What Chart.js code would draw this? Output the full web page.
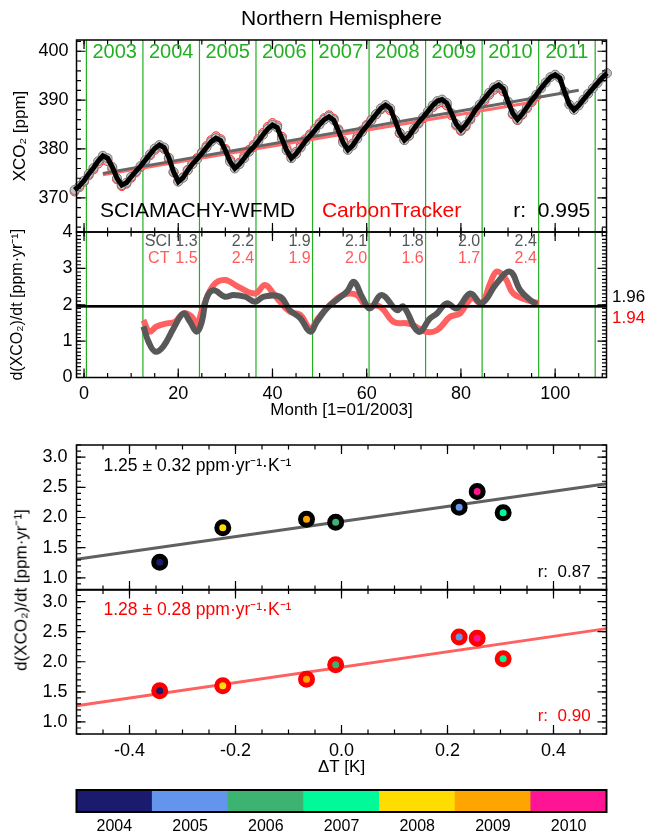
<!DOCTYPE html>
<html lang="en">
<head>
<meta charset="UTF-8"/>
<title>Northern Hemisphere XCO2</title>
<script src="https://cdn.jsdelivr.net/npm/chart.js"></script>
<style>
  body { margin: 0; background: white; font-family: "Liberation Sans", Arial, sans-serif; }
  .wrap { position: relative; width: 648px; height: 835px; overflow: hidden; background: white; }
  canvas { position: absolute; left: 0; }
  .ylab { position: absolute; left: 20px; top: 590px; white-space: nowrap; font-size: 17px;
    transform: translate(-50%, -50%) rotate(-90deg); }
</style>
</head>
<body>
<div class="wrap">
  <canvas id="cTop" width="648" height="246" style="top:0"></canvas>
  <canvas id="cRate" width="648" height="230" style="top:200px"></canvas>
  <canvas id="cSci" width="648" height="184" style="top:420px"></canvas>
  <canvas id="cCt" width="648" height="210" style="top:570px"></canvas>
  <canvas id="cBar" width="648" height="55" style="top:780px"></canvas>
  <div class="ylab">d(XCO₂)/dt [ppm·yr⁻¹]</div>
</div>

<script>
// ---------- top panel: monthly XCO2 [ppm] ----------
const sciMonths = [-2,-1,0,1,2,3,4,5,6,7,8,9,10,11,12,13,14,15,16,17,18,19,20,21,22,23,24,25,26,27,28,29,30,31,32,33,34,35,36,37,38,39,40,41,42,43,44,45,46,47,48,49,50,51,52,53,54,55,56,57,58,59,60,61,62,63,64,65,66,67,68,69,70,71,72,73,74,75,76,77,78,79,80,81,82,83,84,85,86,87,88,89,90,91,92,93,94,95,96,97,98,99,100,101,102,103,104,105,106,107,108,109,110,111];
const sciXco2 = [371.6,372.4,373.5,374.9,376.1,377.5,378.6,378.1,376.3,374.0,372.6,373.1,374.3,375.4,
  376.5,377.7,378.9,380.1,380.8,380.3,378.2,375.3,373.3,374.1,375.6,376.9,
  377.9,379.1,380.3,381.5,382.2,381.7,379.7,377.4,376.0,376.9,378.1,379.4,
  380.4,381.6,382.9,384.1,384.9,384.4,382.1,379.7,378.1,379.0,380.3,381.6,
  382.7,383.8,385.0,386.0,386.6,385.9,383.7,381.3,379.8,380.7,382.1,383.5,
  384.7,385.9,387.1,388.3,389.0,388.3,385.9,383.3,381.8,382.7,384.1,385.4,
  386.5,387.7,388.9,389.8,390.1,389.4,387.3,385.1,383.9,384.9,386.3,387.9,
  389.1,390.3,391.5,392.6,393.1,392.3,389.7,387.3,386.0,387.1,388.5,389.9,
  391.1,392.4,393.6,394.7,395.2,394.5,391.7,389.1,388.0,388.9,390.1,391.3,
  392.4,393.5,394.6,395.5];
const ctMonths = [-2,-1,0,1,2,3,4,5,6,7,8,9,10,11,12,13,14,15,16,17,18,19,20,21,22,23,24,25,26,27,28,29,30,31,32,33,34,35,36,37,38,39,40,41,42,43,44,45,46,47,48,49,50,51,52,53,54,55,56,57,58,59,60,61,62,63,64,65,66,67,68,69,70,71,72,73,74,75,76,77,78,79,80,81,82,83,84,85,86,87,88,89,90,91,92,93,94,95,96];
const ctXco2 = [371.3,372.2,373.3,374.6,375.8,377.0,377.8,377.5,375.9,373.8,372.4,372.9,374.1,375.2,
  376.3,377.5,378.7,379.8,380.5,380.0,378.0,375.2,373.4,374.2,375.7,377.0,
  378.1,379.3,380.6,381.8,382.6,382.0,380.0,377.8,376.4,377.2,378.5,379.8,
  380.8,382.0,383.3,384.5,385.3,384.8,382.5,380.1,378.6,379.4,380.7,382.0,
  383.0,384.1,385.3,386.3,386.9,386.2,384.0,381.7,380.3,381.1,382.5,383.8,
  384.9,386.0,387.1,388.1,388.6,387.9,385.6,383.2,381.9,382.7,384.0,385.2,
  386.3,387.4,388.5,389.3,389.6,388.9,386.9,384.8,383.7,384.6,386.0,387.5,
  388.7,389.9,391.1,392.1,392.6,391.8,389.4,387.1,385.9,387.0,388.3,389.6,
  390.7];
const sciTrendMonths = [4, 105];
const sciTrendXco2 = [375.0, 392.0];
const ctTrendMonths = [4, 96];
const ctTrendXco2 = [374.7, 389.7];
const yearLines = [0.5, 12.5, 24.5, 36.5, 48.5, 60.5, 72.5, 84.5, 96.5, 108.5];
const yearNames = ['2003','2004','2005','2006','2007','2008','2009','2010','2011'];
const yearMid = [6.5, 18.5, 30.5, 42.5, 54.5, 66.5, 78.5, 90.5, 102.5];
const xcoTicks = [370, 380, 390, 400];

// ---------- middle panel: growth rate [ppm/yr] ----------
const sciRateMonths = [12.6,13.7,15.1,16.8,19.0,21.1,22.5,23.9,25.0,26.0,27.5,29.9,31.7,34.2,36.3,38.1,41.6,43.7,45.9,48.0,49.4,51.5,53.6,55.8,57.3,59.0,60.7,63.2,66.4,67.8,71.0,73.5,74.9,77.0,79.1,82.0,84.4,87.6,90.4,92.6,94.7,96.1];
const sciRate = [1.40,0.98,0.71,0.85,1.35,1.76,1.53,1.26,1.53,2.18,2.40,2.22,2.27,2.22,2.08,2.22,2.22,1.85,1.63,1.26,1.53,1.90,2.13,2.36,2.63,2.22,1.90,2.27,1.85,1.95,1.26,1.63,1.76,2.04,1.90,2.31,2.04,2.59,2.91,2.40,2.13,2.01];
const ctRateMonths = [12.6,13.9,15.4,17.6,19.3,21.1,22.9,23.9,25.3,27.5,29.9,32.8,36.3,38.4,40.2,41.6,43.7,45.9,48.0,49.7,52.2,55.0,57.9,59.7,62.8,65.7,68.5,69.9,72.4,74.9,77.7,79.8,82.3,84.4,86.2,87.6,89.4,91.1,94.0,96.5];
const ctRate = [1.58,1.26,1.40,1.49,1.53,1.76,1.67,1.44,1.95,2.54,2.68,2.49,2.31,2.54,2.31,2.08,1.81,1.72,1.35,1.63,1.99,2.27,2.27,1.99,1.95,1.53,1.49,1.44,1.26,1.30,1.67,1.76,2.18,2.04,2.59,2.91,2.73,2.31,2.13,2.04];
const sciMeanRate = 1.96;
const ctMeanRate = 1.94;
const sciAnnual = [1.3, 2.2, 1.9, 2.1, 1.8, 2.0, 2.4];
const ctAnnual = [1.5, 2.4, 1.9, 2.0, 1.6, 1.7, 2.4];
const monthTicks = [0, 20, 40, 60, 80, 100];
const rateTicks = [0, 1, 2, 3, 4];

// ---------- bottom panels: rate vs temperature anomaly ----------
const years = ['2004','2005','2006','2007','2008','2009','2010'];
const yearColors = ['#1a1a6e','#6495ed','#3cb371','#00fa9a','#ffdd00','#ffa500','#ff1493'];
const deltaT = [-0.343, 0.222, -0.011, 0.305, -0.224, -0.066, 0.256];
const sciYearRate = [1.26, 2.17, 1.92, 2.08, 1.83, 1.97, 2.43];
const ctYearRate = [1.52, 2.41, 1.95, 2.05, 1.60, 1.71, 2.39];
const fitT = [-0.5, 0.5];
const sciFit = [1.31, 2.56];
const ctFit = [1.27, 2.55];
const dtTicks = [-0.4, -0.2, 0.0, 0.2, 0.4];
const scRateTicks = [1.0, 1.5, 2.0, 2.5, 3.0];
const barValues = [1, 1, 1, 1, 1, 1, 1];

const FONT = '"Liberation Sans", Arial, Helvetica, sans-serif';
Chart.defaults.font.family = FONT;
Chart.defaults.color = '#000';
Chart.defaults.animation = false;
Chart.defaults.plugins.legend.display = false;
Chart.defaults.plugins.tooltip.enabled = false;

const xy = (xs, ys) => xs.map((x, i) => ({x: x, y: ys[i]}));
const GREEN = '#22b022';

// inward ticks on all four sides + box
function frame(ticks, lw) {
  return {
    id: 'frame',
    afterDatasetsDraw(chart) {
      const {ctx, chartArea: a, scales} = chart;
      ctx.save();
      ctx.strokeStyle = '#000';
      ctx.lineWidth = 1.2;
      for (const [axis, step, len] of ticks) {
        const s = scales[axis];
        const i0 = Math.ceil(s.min / step - 1e-6), i1 = Math.floor(s.max / step + 1e-6);
        for (let i = i0; i <= i1; i++) {
          const p = s.getPixelForValue(i * step);
          ctx.beginPath();
          if (axis === 'x') {
            ctx.moveTo(p, a.bottom); ctx.lineTo(p, a.bottom - len);
            ctx.moveTo(p, a.top); ctx.lineTo(p, a.top + len);
          } else {
            ctx.moveTo(a.left, p); ctx.lineTo(a.left + len, p);
            ctx.moveTo(a.right, p); ctx.lineTo(a.right - len, p);
          }
          ctx.stroke();
        }
      }
      ctx.lineWidth = lw || 1.5;
      ctx.strokeRect(a.left, a.top, a.right - a.left, a.bottom - a.top);
      ctx.restore();
    }
  };
}

// text placed in data coordinates
function notes(items) {
  return {
    id: 'notes',
    afterDraw(chart) {
      const {ctx, scales} = chart;
      ctx.save();
      ctx.textBaseline = 'middle';
      for (const t of items) {
        ctx.font = (t.size || 16) + 'px ' + FONT;
        ctx.fillStyle = t.color || '#000';
        ctx.textAlign = t.align || 'left';
        const px = t.px !== undefined ? t.px : scales.x.getPixelForValue(t.x);
        const py = scales.y.getPixelForValue(t.y) + (t.dy || 0);
        ctx.fillText(t.text, px, py);
      }
      ctx.restore();
    }
  };
}

// vertical green year boundaries
const yearBounds = {
  id: 'yearBounds',
  beforeDatasetsDraw(chart) {
    const {ctx, chartArea: a, scales} = chart;
    ctx.save();
    ctx.strokeStyle = GREEN;
    ctx.lineWidth = 1.2;
    yearLines.forEach(m => {
      const p = scales.x.getPixelForValue(m);
      ctx.beginPath(); ctx.moveTo(p, a.top); ctx.lineTo(p, a.bottom); ctx.stroke();
    });
    ctx.restore();
  }
};

const setTicks = vals => scale => { scale.ticks = vals.map(v => ({value: v})); };
const fixW = w => s => { s.width = w; s.paddingTop = 0; s.paddingBottom = 0; };
const fixH = h => s => { s.height = h; };
const noGrid = {display: false, drawTicks: false};
const noBorder = {display: false};
// invisible bottom strip: keeps the plot box bottom where it is put
const hiddenX = (min, max, h) => ({type: 'linear', min: min, max: max, grid: noGrid, border: noBorder,
  ticks: {display: false}, title: {display: false}, afterFit: fixH(h)});

// ---------------- top panel ----------------
const topNotes = yearNames.map((n, i) => ({x: yearMid[i], y: 399.8, text: n, color: GREEN, size: 20, align: 'center'}));
topNotes.push({x: 3.4, y: 367.3, text: 'SCIAMACHY-WFMD', size: 21});
topNotes.push({x: 50.5, y: 367.3, text: 'CarbonTracker', color: '#ff0000', size: 21});
topNotes.push({x: 91.1, y: 367.3, text: 'r:  0.995', size: 21});

new Chart(document.getElementById('cTop'), {
  type: 'scatter',
  data: {
    datasets: [
      {data: xy(sciMonths, sciXco2), showLine: true, borderColor: '#000', borderWidth: 5,
        pointRadius: 0, order: 0, clip: false},
      {data: xy(sciTrendMonths, sciTrendXco2), showLine: true, borderColor: '#666', borderWidth: 3,
        pointRadius: 0, order: 1},
      {data: xy(ctTrendMonths, ctTrendXco2), showLine: true, borderColor: '#ff6a6a', borderWidth: 3,
        pointRadius: 0, order: 2},
      {data: xy(sciMonths, sciXco2), showLine: false, pointRadius: 4.5, backgroundColor: '#c4c4c4',
        borderColor: '#777', borderWidth: 1, order: 3, clip: false},
      {data: xy(ctMonths, ctXco2), showLine: true, borderColor: '#ff3030', borderWidth: 2.5,
        pointRadius: 4.5, pointBackgroundColor: '#f4b8b8', pointBorderColor: '#ff3030', pointBorderWidth: 1,
        order: 4, clip: false}
    ]
  },
  options: {
    responsive: false, devicePixelRatio: 1,
    layout: {padding: {left: 0, right: 41.5, top: 0, bottom: 0}},
    plugins: {
      title: {display: true, text: 'Northern Hemisphere', fullSize: false, color: '#000',
        font: {size: 21, weight: 'normal'}, padding: {top: 7, bottom: 7.8}}
    },
    scales: {
      x: hiddenX(-1.6, 110.9, 14),
      y: {min: 363, max: 402.3, grid: noGrid, border: noBorder,
        afterBuildTicks: setTicks(xcoTicks), afterFit: fixW(76.5),
        ticks: {font: {size: 18}, padding: 8},
        title: {display: true, text: 'XCO₂ [ppm]', font: {size: 17}, padding: {top: 10}}}
    }
  },
  plugins: [yearBounds, frame([['x', 20, 9], ['x', 5, 4.5], ['y', 10, 9], ['y', 2, 4.5]]), notes(topNotes)]
});

// ---------------- growth-rate panel ----------------
const rateNotes = [
  {x: 12.9, y: 3.75, text: 'SCI', color: '#555', size: 16},
  {x: 13.6, y: 3.26, text: 'CT', color: '#ff5a5a', size: 16}
];
sciAnnual.forEach((v, i) => rateNotes.push({x: yearLines[i + 2] - 0.4, y: 3.75, text: v.toFixed(1), color: '#555', size: 16, align: 'right'}));
ctAnnual.forEach((v, i) => rateNotes.push({x: yearLines[i + 2] - 0.4, y: 3.26, text: v.toFixed(1), color: '#ff5a5a', size: 16, align: 'right'}));
rateNotes.push({px: 612, y: sciMeanRate, dy: -9, text: sciMeanRate.toFixed(2), size: 17});
rateNotes.push({px: 612, y: ctMeanRate, dy: 11, text: ctMeanRate.toFixed(2), color: '#ff0000', size: 17});

new Chart(document.getElementById('cRate'), {
  type: 'scatter',
  data: {
    datasets: [
      {data: xy([-1.6, 110.9], [sciMeanRate, sciMeanRate]), showLine: true, borderColor: '#000',
        borderWidth: 2.5, pointRadius: 0, order: 0},
      {data: xy([-1.6, 110.9], [ctMeanRate, ctMeanRate]), showLine: true, borderColor: '#ff0000',
        borderWidth: 1.2, pointRadius: 0, order: 1},
      {data: xy(sciRateMonths, sciRate), showLine: true, borderColor: '#585858', borderWidth: 6,
        pointRadius: 0, tension: 0.4, order: 2},
      {data: xy(ctRateMonths, ctRate), showLine: true, borderColor: '#ff6060', borderWidth: 6,
        pointRadius: 0, tension: 0.4, order: 3}
    ]
  },
  options: {
    responsive: false, devicePixelRatio: 1,
    layout: {padding: {left: 0, right: 41.5, top: 32, bottom: 0}},
    scales: {
      x: {type: 'linear', min: -1.6, max: 110.9, grid: noGrid, border: noBorder,
        afterBuildTicks: setTicks(monthTicks), afterFit: fixH(52.5),
        ticks: {font: {size: 18}, padding: 6, maxRotation: 0},
        title: {display: true, text: 'Month [1=01/2003]', font: {size: 17}, padding: {top: 0, bottom: 9}}},
      y: {min: 0, max: 4, grid: noGrid, border: noBorder,
        afterBuildTicks: setTicks(rateTicks), afterFit: fixW(76.5),
        ticks: {font: {size: 18}, padding: 4},
        title: {display: true, text: 'd(XCO₂)/dt [ppm·yr⁻¹]', font: {size: 16}, padding: {top: 8}}}
    }
  },
  plugins: [yearBounds, frame([['x', 20, 9], ['x', 5, 4.5], ['y', 1, 9], ['y', 0.1, 4.5]]), notes(rateNotes)]
});

// ---------------- scatter panels ----------------
function scatterPanel(id, rates, fit, ring, lineColor, label, rText, padTop, showX) {
  const c = ring === '#000' ? '#000' : '#ff0000';
  const xScale = showX ? {type: 'linear', min: -0.5, max: 0.5, grid: noGrid, border: noBorder,
      afterBuildTicks: setTicks(dtTicks), afterFit: fixH(46),
      ticks: {font: {size: 18}, padding: 6, maxRotation: 0, callback: v => v.toFixed(1)},
      title: {display: true, text: 'ΔT [K]', font: {size: 17}, padding: {top: 0, bottom: 2}}}
    : hiddenX(-0.5, 0.5, 14);
  return new Chart(document.getElementById(id), {
    type: 'scatter',
    data: {
      datasets: [
        {data: xy(deltaT, rates), pointRadius: 6, pointBorderWidth: 5, pointBorderColor: ring,
          pointBackgroundColor: yearColors, order: 0, clip: false},
        {data: xy(fitT, fit), showLine: true, borderColor: lineColor, borderWidth: 3,
          pointRadius: 0, order: 1}
      ]
    },
    options: {
      responsive: false, devicePixelRatio: 1,
      layout: {padding: {left: 0, right: 41.5, top: padTop, bottom: 0}},
      scales: {
        x: xScale,
        y: {min: 0.8, max: 3.2, grid: noGrid, border: noBorder,
          afterBuildTicks: setTicks(scRateTicks), afterFit: fixW(76.5),
          ticks: {font: {size: 18}, padding: 9, callback: v => v.toFixed(1)}}
      }
    },
    plugins: [
      frame([['x', 0.2, 9], ['x', 0.05, 4.5], ['y', 0.5, 9], ['y', 0.1, 4.5]]),
      notes([
        {x: -0.449, y: 2.85, text: label, color: c, size: 17.5},
        {x: 0.47, y: 1.10, text: rText, color: c, size: 17, align: 'right'}
      ])
    ]
  });
}
scatterPanel('cSci', sciYearRate, sciFit, '#000', '#606060', '1.25 ± 0.32 ppm·yr⁻¹·K⁻¹', 'r:  0.87', 25, false);
scatterPanel('cCt', ctYearRate, ctFit, '#ff0000', '#ff6060', '1.28 ± 0.28 ppm·yr⁻¹·K⁻¹', 'r:  0.90', 19.5, true);

// ---------------- colour bar ----------------
new Chart(document.getElementById('cBar'), {
  type: 'bar',
  data: {
    labels: years,
    datasets: [{data: barValues, backgroundColor: yearColors, borderWidth: 0,
      barPercentage: 1, categoryPercentage: 1}]
  },
  options: {
    responsive: false, devicePixelRatio: 1,
    layout: {padding: {left: 76.5, right: 41.5, top: 10, bottom: 0}},
    scales: {
      x: {grid: noGrid, border: noBorder, afterFit: fixH(23), ticks: {font: {size: 16}, padding: 5}},
      y: {display: false, min: 0, max: 1}
    }
  },
  plugins: [frame([], 2)]
});
</script>
</body>
</html>
